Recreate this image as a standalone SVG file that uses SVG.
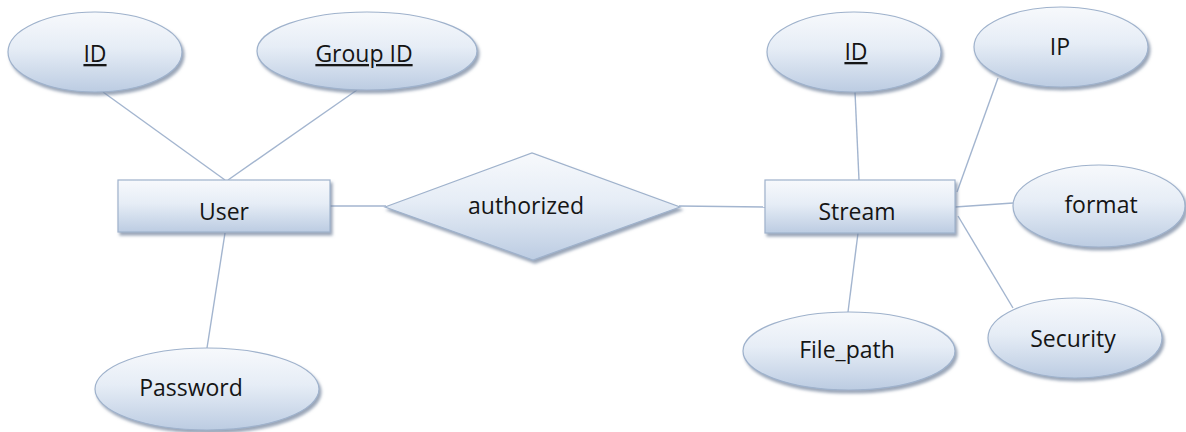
<svg xmlns="http://www.w3.org/2000/svg" width="1186" height="432" viewBox="0 0 1186 432">
  <defs>
    <linearGradient id="fillGrad" x1="0" y1="0" x2="0" y2="1">
      <stop offset="0" stop-color="#f7f9fc"/>
      <stop offset="0.45" stop-color="#e6edf6"/>
      <stop offset="1" stop-color="#bccce2"/>
    </linearGradient>
    <filter id="shadow" x="-10%" y="-20%" width="125%" height="150%">
      <feGaussianBlur in="SourceAlpha" stdDeviation="1.4" result="blur"/>
      <feOffset in="blur" dx="2" dy="3" result="off"/>
      <feFlood flood-color="#6f809a" flood-opacity="0.7"/>
      <feComposite in2="off" operator="in" result="shade"/>
      <feMerge>
        <feMergeNode in="shade"/>
        <feMergeNode in="SourceGraphic"/>
      </feMerge>
    </filter>
  </defs>
  <style>
    .shape { fill: url(#fillGrad); stroke: #9fb2cc; stroke-width: 1.2; filter: url(#shadow); }
    .label { font-family: "Open Sans", "Liberation Sans", sans-serif; font-size: 23px; fill: #151515; text-anchor: middle; }
    .key { text-decoration: underline; }
    .link { stroke: #a3b5cf; stroke-width: 1.4; fill: none; }
  </style>
  <rect width="1186" height="432" fill="#ffffff"/>

  <!-- connectors -->
  <g id="connectors">
    <line class="link" x1="103" y1="92" x2="225" y2="180"/>
    <line class="link" x1="357" y1="90" x2="228" y2="180"/>
    <line class="link" x1="225" y1="233" x2="207" y2="348"/>
    <line class="link" x1="330" y1="206" x2="386" y2="206"/>
    <line class="link" x1="679" y1="206" x2="765" y2="207"/>
    <line class="link" x1="855" y1="92" x2="859" y2="180"/>
    <line class="link" x1="998" y1="78" x2="957" y2="192"/>
    <line class="link" x1="955" y1="207" x2="1013" y2="203"/>
    <line class="link" x1="958" y1="216" x2="1013" y2="308"/>
    <line class="link" x1="858" y1="233" x2="848" y2="312"/>
  </g>

  <!-- User entity and its attributes -->
  <g id="user">
    <rect class="shape" x="118" y="180" width="212" height="52"/>
    <text class="label" x="224" y="220">User</text>
  </g>
  <g id="user-id">
    <ellipse class="shape" cx="95" cy="52" rx="87" ry="40"/>
    <text class="label key" x="95" y="62">ID</text>
  </g>
  <g id="user-group-id">
    <ellipse class="shape" cx="367" cy="51" rx="110" ry="39"/>
    <text class="label key" x="364" y="62">Group ID</text>
  </g>
  <g id="user-password">
    <ellipse class="shape" cx="207" cy="389" rx="112" ry="41"/>
    <text class="label" x="191" y="396">Password</text>
  </g>

  <!-- relationship -->
  <g id="authorized">
    <polygon class="shape" points="385,207 532,153 680,207 533,260"/>
    <text class="label" x="526" y="214">authorized</text>
  </g>

  <!-- Stream entity and its attributes -->
  <g id="stream">
    <rect class="shape" x="765" y="180" width="190" height="53"/>
    <text class="label" x="857" y="220">Stream</text>
  </g>
  <g id="stream-id">
    <ellipse class="shape" cx="854" cy="52" rx="87" ry="40"/>
    <text class="label key" x="856" y="60">ID</text>
  </g>
  <g id="stream-ip">
    <ellipse class="shape" cx="1061" cy="47" rx="87" ry="40"/>
    <text class="label" x="1060" y="55">IP</text>
  </g>
  <g id="stream-format">
    <ellipse class="shape" cx="1099" cy="206" rx="86" ry="41"/>
    <text class="label" x="1101" y="213">format</text>
  </g>
  <g id="stream-security">
    <ellipse class="shape" cx="1075" cy="338" rx="87" ry="40"/>
    <text class="label" x="1073" y="347">Security</text>
  </g>
  <g id="stream-file-path">
    <ellipse class="shape" cx="849" cy="351" rx="106" ry="39"/>
    <text class="label" x="847" y="358">File_path</text>
  </g>
</svg>
